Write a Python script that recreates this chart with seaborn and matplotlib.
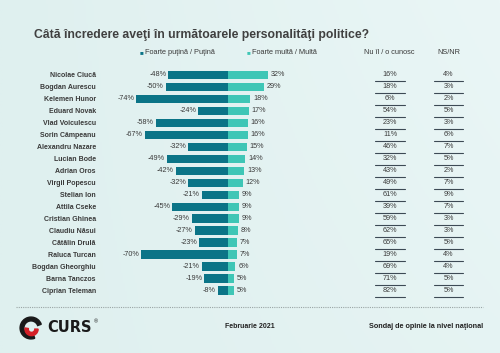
import numpy as np
import pandas as pd
import matplotlib
matplotlib.use("Agg")
import matplotlib.pyplot as plt
import matplotlib.patches as mpatches
import matplotlib.transforms as mtrans
from matplotlib.colors import LinearSegmentedColormap
import seaborn as sns

names = ["Nicolae Ciucă", "Bogdan Aurescu", "Kelemen Hunor", "Eduard Novak",
         "Vlad Voiculescu", "Sorin Câmpeanu", "Alexandru Nazare", "Lucian Bode",
         "Adrian Oros", "Virgil Popescu", "Stelian Ion", "Attila Cseke",
         "Cristian Ghinea", "Claudiu Năsui", "Cătălin Drulă", "Raluca Turcan",
         "Bogdan Gheorghiu", "Barna Tanczos", "Ciprian Teleman"]
putina = [-48, -50, -74, -24, -58, -67, -32, -49, -42, -32, -21, -45, -29, -27, -23, -70, -21, -19, -8]
multa = [32, 29, 18, 17, 16, 16, 15, 14, 13, 12, 9, 9, 9, 8, 7, 7, 6, 5, 5]
nu_cunosc = [16, 18, 6, 54, 23, 11, 46, 32, 43, 49, 61, 39, 59, 62, 65, 19, 69, 71, 82]
nsnr = [4, 3, 2, 5, 3, 6, 7, 5, 2, 7, 9, 7, 3, 3, 5, 4, 4, 5, 5]

title = "Câtă încredere aveţi în următoarele personalităţi politice?"
legend_labels = ["Foarte puţină / Puţină", "Foarte multă / Multă", "Nu îl / o cunosc", "NS/NR"]

DARK = "#0b7487"
LIGHT = "#3fc6b6"
TXT = "#3a3a3a"
BG = "#e3f2f1"

sns.set_style("white")
plt.rcParams["font.family"] = ["Liberation Sans", "DejaVu Sans"]

W, H = 500, 353
fig = plt.figure(figsize=(5, 3.53), dpi=100)
fig.patch.set_facecolor(BG)

# background gradient
bgax = fig.add_axes([0, 0, 1, 1], zorder=-10)
grad = np.linspace(0, 1, 256)[None, :] * np.linspace(1, 0.6, 256)[:, None]
cmap = LinearSegmentedColormap.from_list("bg", ["#dff0ef", "#eaf6f6"])
bgax.imshow(grad, aspect="auto", cmap=cmap, extent=[0, 1, 0, 1])
bgax.set_axis_off()

ax_l, ax_r = 100, 480
top_px, bot_px = 69.0, 296.7
ax = fig.add_axes([ax_l / W, 1 - bot_px / H, (ax_r - ax_l) / W, (bot_px - top_px) / H])
ax.patch.set_alpha(0)

df = pd.DataFrame({"name": names, "putina": putina, "multa": multa})
sns.barplot(data=df, x="putina", y="name", color=DARK, width=0.72, ax=ax, saturation=1,
            orient="h", linewidth=0, edgecolor="none")
sns.barplot(data=df, x="multa", y="name", color=LIGHT, width=0.72, ax=ax, saturation=1,
            orient="h", linewidth=0, edgecolor="none")

zero_px = 228
scale = 1.24
ax.set_xlim((ax_l - zero_px) / scale, (ax_r - zero_px) / scale)
ax.set_ylim(len(names) - 0.5, -0.5)
for s in ax.spines.values():
    s.set_visible(False)
ax.set_xticks([])
ax.set_xlabel("")
ax.set_ylabel("")
ax.tick_params(axis="y", length=0, pad=3)
ax.set_yticks(range(len(names)))
ax.set_yticklabels(names, fontsize=5, fontweight="bold", color=TXT)

for i, (n, p) in enumerate(zip(putina, multa)):
    ax.annotate(f"{n}%", (n, i), xytext=(-1.5, 0), textcoords="offset points",
                ha="right", va="center", fontsize=5.2, color=TXT)
    ax.annotate(f"{p}%", (p, i), xytext=(2, 0), textcoords="offset points",
                ha="left", va="center", fontsize=5.2, color=TXT)

blend = mtrans.blended_transform_factory(ax.transAxes, ax.transData)
def fx(px):
    return (px - ax_l) / (ax_r - ax_l)

cols = [(nu_cunosc, 375, 405), (nsnr, 434, 463)]
for vals, x0, x1 in cols:
    for i, v in enumerate(vals):
        ax.text(fx((x0 + x1) / 2), i, f"{v}%", transform=blend, ha="center",
                va="center", fontsize=5.2, color=TXT)
        ax.plot([fx(x0), fx(x1)], [i + 0.5, i + 0.5], transform=blend,
                color="#3d4a55", lw=0.8, clip_on=False)

# title and legend
fig.text(34 / W, 1 - 35 / H, title, fontsize=8.8, fontweight="bold", color="#404040",
         ha="left", va="center")
fig.text(140 / W, 1 - 53 / H, "■", fontsize=4.5, color=DARK, ha="left", va="center")
fig.text(145 / W, 1 - 53 / H, legend_labels[0], fontsize=5.3, color=TXT, ha="left", va="center")
fig.text(247 / W, 1 - 53 / H, "■", fontsize=4.5, color=LIGHT, ha="left", va="center")
fig.text(252 / W, 1 - 53 / H, legend_labels[1], fontsize=5.3, color=TXT, ha="left", va="center")
fig.text(389 / W, 1 - 53 / H, legend_labels[2], fontsize=5.3, color=TXT, ha="center", va="center")
fig.text(449 / W, 1 - 53 / H, legend_labels[3], fontsize=5.3, color=TXT, ha="center", va="center")

# footer
fig.add_artist(plt.Line2D([16 / W, 483 / W], [1 - 307 / H, 1 - 307 / H], transform=fig.transFigure,
                          color="#9aa5a5", lw=0.8, ls=(0, (1, 1))))
fig.text(250 / W, 1 - 327 / H, "Februarie 2021", fontsize=5, fontweight="bold", color="#222222",
         ha="center", va="center")
fig.text(483 / W, 1 - 327 / H, "Sondaj de opinie la nivel naţional", fontsize=5.2, fontweight="bold",
         color="#222222", ha="right", va="center")

# logo
logo_ax = fig.add_axes([18 / W, 1 - 340 / H, 26 / W, 24 / H])
logo_ax.set_xlim(-1.1, 1.1)
logo_ax.set_ylim(-1.1, 1.1)
logo_ax.set_aspect("equal")
logo_ax.set_axis_off()
logo_ax.add_patch(mpatches.Wedge((0, 0), 1.0, 20, 290, width=0.35, color="#1a1a1a"))
logo_ax.add_patch(mpatches.Wedge((0.05, -0.1), 0.6, 170, 360, width=0.3, color="#d42027"))
fig.text(47 / W, 1 - 328 / H, "CURS", fontsize=10.5, fontweight="heavy", color="#1a1a1a",
         ha="left", va="center", family=["DejaVu Sans"])
fig.text(96 / W, 1 - 322 / H, "®", fontsize=4, color="#1a1a1a", ha="center", va="center")

fig.savefig("out.png", dpi=100, facecolor=BG)
